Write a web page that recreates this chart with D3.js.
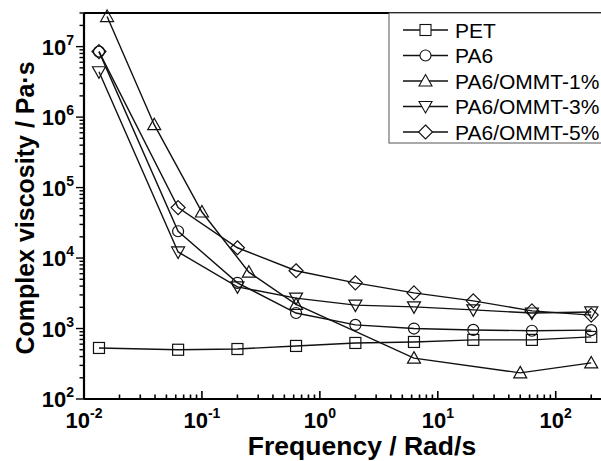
<!DOCTYPE html>
<html lang="en">
<head>
<script src="https://d3js.org/d3.v7.min.js"></script>
<style>
  body { margin: 0; background: #fff; font-family: "Liberation Sans", Arial, sans-serif; }
  svg { display: block; }
</style>
</head>
<body>
<div id="chart"></div>
<script>
// frequencies (rad/s) and complex viscosity (Pa·s)
var freqCommon = [0.0134, 0.0628, 0.2, 0.628, 2, 6.28, 20, 62.8, 200];
var freq1 = [0.0157, 0.0394, 0.1, 0.25, 0.628, 6.28, 50, 200];

var petVisc = [530, 500, 512, 566, 624, 645, 690, 690, 760];
var pa6Visc = [8.5e6, 2.4e4, 4450, 1660, 1125, 1000, 955, 930, 950];
var ommt1Visc = [2.67e7, 7.8e5, 4.5e4, 6300, 2200, 380, 235, 325];
var ommt3Visc = [4.4e6, 1.22e4, 3900, 2700, 2150, 2030, 1840, 1660, 1720];
var ommt5Visc = [8.5e6, 5.2e4, 1.4e4, 6600, 4450, 3200, 2470, 1780, 1550];

var seriesNames = ["PET", "PA6", "PA6/OMMT-1%", "PA6/OMMT-3%", "PA6/OMMT-5%"];
var seriesFreq = [freqCommon, freqCommon, freq1, freqCommon, freqCommon];
var seriesVisc = [petVisc, pa6Visc, ommt1Visc, ommt3Visc, ommt5Visc];
var seriesMarker = ["square", "circle", "up", "down", "diamond"];

var xExp = [-2, -1, 0, 1, 2];
var yExp = [2, 3, 4, 5, 6, 7];

var W = 601, H = 461;
var plotLeft = 84, plotTop = 13, plotBottom = 399, plotRight = 612;

var svg = d3.select("#chart").append("svg")
    .attr("width", W).attr("height", H);

var x = d3.scaleLog().domain([0.01, 300]).range([plotLeft, plotRight]);
var y = d3.scaleLog().domain([100, 3e7]).range([plotBottom, plotTop]);

// minor tick values
function minors(lo, hi) {
    var out = [];
    for (var e = lo; e < hi; e++) {
        for (var m = 1; m < 10; m++) out.push(m * Math.pow(10, e));
    }
    return out;
}
function isMajor(d) {
    return Math.abs(Math.log10(d) - Math.round(Math.log10(d))) < 1e-9;
}

// x axis (ticks pointing up, inside)
var xMinor = minors(-2, 3).filter(function(v) { return v <= 300; });
svg.append("g").selectAll("line").data(xMinor).enter().append("line")
    .attr("x1", function(d) { return x(d); }).attr("x2", function(d) { return x(d); })
    .attr("y1", plotBottom)
    .attr("y2", function(d) { return plotBottom - (isMajor(d) ? 8 : 4.5); })
    .attr("stroke", "#000").attr("stroke-width", 1.6);

var xl = svg.append("g").selectAll("text").data(xExp).enter().append("text")
    .attr("x", function(d) { return x(Math.pow(10, d)); })
    .attr("y", 428)
    .attr("text-anchor", "middle")
    .style("font-size", "22px").style("font-weight", "bold");
xl.append("tspan").text("10");
xl.append("tspan").attr("dy", -10).style("font-size", "14px").text(function(d) { return d; });

// y axis (ticks pointing left, outside)
var yMinor = minors(2, 8).filter(function(v) { return v <= 3e7; });
svg.append("g").selectAll("line").data(yMinor).enter().append("line")
    .attr("y1", function(d) { return y(d); }).attr("y2", function(d) { return y(d); })
    .attr("x1", plotLeft)
    .attr("x2", function(d) { return plotLeft - (isMajor(d) ? 8 : 4.5); })
    .attr("stroke", "#000").attr("stroke-width", 1.4);

var yl = svg.append("g").selectAll("text").data(yExp).enter().append("text")
    .attr("x", 74)
    .attr("y", function(d) { return y(Math.pow(10, d)) + 8; })
    .attr("text-anchor", "end")
    .style("font-size", "22px").style("font-weight", "bold");
yl.append("tspan").text("10");
yl.append("tspan").attr("dy", -10).style("font-size", "14px").text(function(d) { return d; });

// frame lines
svg.append("line").attr("x1", plotLeft).attr("x2", W).attr("y1", plotBottom).attr("y2", plotBottom)
    .attr("stroke", "#000").attr("stroke-width", 2.2);
svg.append("line").attr("x1", plotLeft).attr("x2", W).attr("y1", plotTop).attr("y2", plotTop)
    .attr("stroke", "#000").attr("stroke-width", 2.2);
svg.append("line").attr("x1", plotLeft).attr("x2", plotLeft).attr("y1", plotTop).attr("y2", plotBottom)
    .attr("stroke", "#000").attr("stroke-width", 2.2);

// axis titles
svg.append("text")
    .attr("x", 362).attr("y", 455)
    .attr("text-anchor", "middle")
    .style("font-size", "26.5px").style("font-weight", "bold")
    .text("Frequency / Rad/s");

svg.append("text")
    .attr("transform", "translate(34," + ((plotTop + plotBottom) / 2 + 2) + ") rotate(-90)")
    .attr("text-anchor", "middle")
    .style("font-size", "25px").style("font-weight", "bold")
    .text("Complex viscosity / Pa\u00b7s");

// marker drawing
function drawMarker(g, type, cx, cy) {
    var s = 5.5;
    if (type === "square") {
        g.append("rect").attr("x", cx - s).attr("y", cy - s).attr("width", 2 * s).attr("height", 2 * s);
    } else if (type === "circle") {
        g.append("circle").attr("cx", cx).attr("cy", cy).attr("r", s);
    } else if (type === "up") {
        g.append("path").attr("d", "M" + cx + "," + (cy - 6.5) + "L" + (cx + 6.5) + "," + (cy + 5) + "L" + (cx - 6.5) + "," + (cy + 5) + "Z");
    } else if (type === "down") {
        g.append("path").attr("d", "M" + cx + "," + (cy + 6.5) + "L" + (cx + 6.5) + "," + (cy - 5) + "L" + (cx - 6.5) + "," + (cy - 5) + "Z");
    } else if (type === "diamond") {
        g.append("path").attr("d", "M" + cx + "," + (cy - 7) + "L" + (cx + 7) + "," + cy + "L" + cx + "," + (cy + 7) + "L" + (cx - 7) + "," + cy + "Z");
    }
}

var line = d3.line()
    .x(function(d) { return x(d[0]); })
    .y(function(d) { return y(d[1]); });

seriesNames.forEach(function(name, i) {
    var pts = seriesFreq[i].map(function(f, j) { return [f, seriesVisc[i][j]]; });
    svg.append("path").datum(pts)
        .attr("d", line)
        .attr("fill", "none").attr("stroke", "#111").attr("stroke-width", 1.4);
    var mg = svg.append("g").attr("fill", "none").attr("stroke", "#111").attr("stroke-width", 1.2);
    pts.forEach(function(p) { drawMarker(mg, seriesMarker[i], x(p[0]), y(p[1])); });
});

// legend
var leg = svg.append("g");
leg.append("rect").attr("x", 389).attr("y", plotTop).attr("width", 230).attr("height", 130)
    .attr("fill", "#fff").attr("stroke", "#555").attr("stroke-width", 1);
seriesNames.forEach(function(name, i) {
    var ly = 30 + i * 25.5;
    leg.append("line").attr("x1", 403).attr("x2", 448).attr("y1", ly).attr("y2", ly)
        .attr("stroke", "#111").attr("stroke-width", 1.4);
    var mg = leg.append("g").attr("fill", "#fff").attr("stroke", "#111").attr("stroke-width", 1.1);
    drawMarker(mg, seriesMarker[i], 425.5, ly);
    leg.append("text").attr("x", 455).attr("y", ly + 7.5)
        .style("font-size", "21px")
        .text(name);
});
</script>
</body>
</html>
